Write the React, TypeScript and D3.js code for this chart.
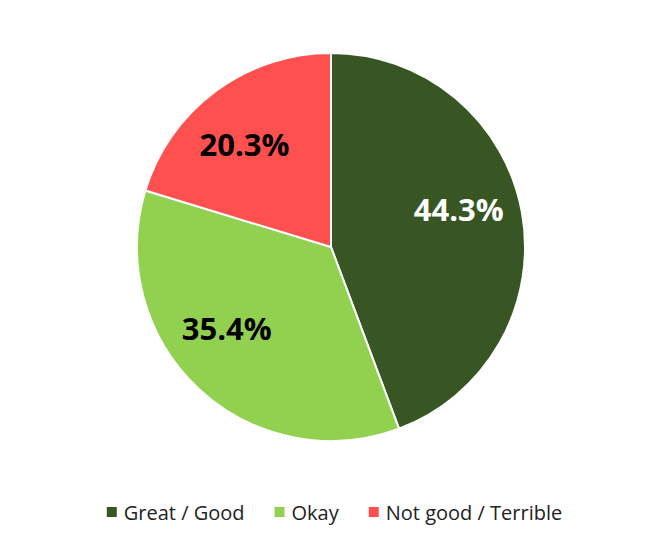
import React, { useEffect, useRef } from "react";
import * as d3 from "d3";

const categories = ["Great / Good", "Okay", "Not good / Terrible"];
const values = [44.3, 35.4, 20.3];
const colors = ["#375623", "#92D050", "#FF5050"];
const labelColors = ["#ffffff", "#000000", "#000000"];

const W = 663;
const H = 543;
// small best-fit nudges for the data labels (layout only)
const labelNudge: [number, number][] = [[-2, -15], [-14, -15], [-8, 3]];

export default function App() {
  const ref = useRef<SVGSVGElement | null>(null);

  useEffect(() => {
    const svg = d3.select(ref.current);
    svg.selectAll("*").remove();
    const cx = 331, cy = 247, r = 194;
    const g = svg.append("g").attr("transform", `translate(${cx},${cy})`);
    const data = categories.map((c, i) => ({ c, v: values[i], i }));
    const pie = d3.pie<any>().value((d) => d.v).sort(null);
    const arcs = pie(data);
    const arc = d3.arc<any>().innerRadius(0).outerRadius(r);
    const labelArc = d3.arc<any>().innerRadius(r * 0.68).outerRadius(r * 0.68);

    g.selectAll("path")
      .data(arcs)
      .enter()
      .append("path")
      .attr("d", arc)
      .attr("fill", (d) => colors[d.data.i])
      .attr("stroke", "#ffffff")
      .attr("stroke-width", 2);

    g.selectAll("text.lbl")
      .data(arcs)
      .enter()
      .append("text")
      .attr("class", "lbl")
      .attr("x", (d) => labelArc.centroid(d)[0] + labelNudge[d.data.i][0])
      .attr("y", (d) => labelArc.centroid(d)[1] + labelNudge[d.data.i][1])
      .attr("text-anchor", "middle")
      .attr("dominant-baseline", "central")
      .attr("font-family", "'Open Sans', sans-serif")
      .attr("font-weight", 700)
      .attr("font-size", 31)
      .attr("fill", (d) => labelColors[d.data.i])
      .text((d) => `${d.data.v.toFixed(1)}%`);

    // legend
    const lg = svg.append("g");
    const items = lg
      .selectAll("g")
      .data(data)
      .enter()
      .append("g");
    items
      .append("rect")
      .attr("width", 10)
      .attr("height", 10)
      .attr("y", -5)
      .attr("fill", (d) => colors[d.i]);
    const texts = items
      .append("text")
      .attr("x", 17)
      .attr("y", 0)
      .attr("dominant-baseline", "central")
      .attr("font-family", "'Open Sans', sans-serif")
      .attr("font-size", 20)
      .attr("fill", "#222")
      .text((d) => d.c);
    const widths: number[] = [];
    texts.each(function () {
      widths.push((this as SVGTextElement).getComputedTextLength() + 17);
    });
    const gap = 30;
    const total = widths.reduce((a, b) => a + b, 0) + gap * (widths.length - 1);
    let x = (W - total) / 2 + 3;
    items.attr("transform", (_d, i) => {
      const t = `translate(${x},${512})`;
      x += widths[i] + gap;
      return t;
    });
  }, []);

  return (
    <svg
      ref={ref}
      width={W}
      height={H}
      style={{ display: "block", position: "absolute", left: 0, top: 0, background: "#fff" }}
    />
  );
}
